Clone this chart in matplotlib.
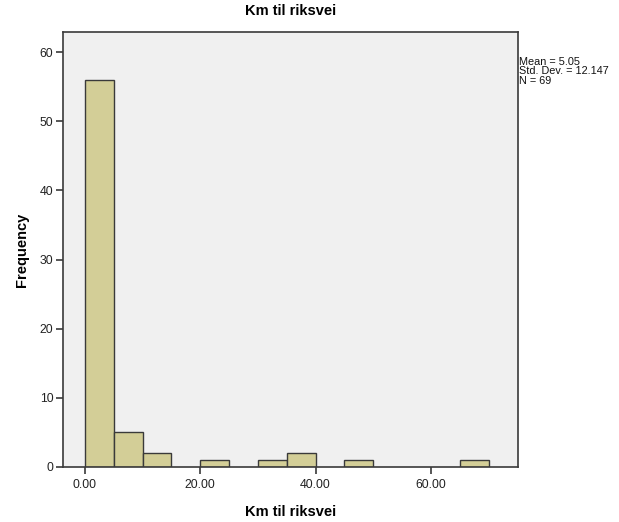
import matplotlib
matplotlib.use("Agg")
import matplotlib.pyplot as plt
import numpy as np

plt.rcParams['font.family'] = ['Liberation Sans', 'DejaVu Sans']

# Histogram of distance to nearest national road (bin width 5 km)
bin_edges = [0, 5, 10, 15, 20, 25, 30, 35, 40, 45, 50, 55, 60, 65, 70]
counts = [56, 5, 2, 0, 1, 0, 1, 2, 0, 1, 0, 0, 0, 1]
x_ticks = [0, 20, 40, 60]
x_tick_labels = ["0.00", "20.00", "40.00", "60.00"]
y_ticks = [0, 10, 20, 30, 40, 50, 60]
stats_text = "Mean = 5.05\nStd. Dev. = 12.147\nN = 69"

fig = plt.figure(figsize=(6.19, 5.22), dpi=100)
ax = fig.add_axes([0.1018, 0.1054, 0.735, 0.8333])
ax.set_facecolor('#F0F0F0')

lefts = bin_edges[:-1]
widths = np.diff(bin_edges)
for l, w, c in zip(lefts, widths, counts):
    if c > 0:
        ax.bar(l, c, width=w, align='edge', color='#D3CE97',
               edgecolor='#3A3A3A', linewidth=1.0, zorder=2)

ax.set_xlim(-3.8, 75.1)
ax.set_ylim(0, 62.9)
ax.set_xticks(x_ticks)
ax.set_xticklabels(x_tick_labels)
ax.set_yticks(y_ticks)

for s in ax.spines.values():
    s.set_color('#3A3A3A')
    s.set_linewidth(1.2)

ax.tick_params(axis='both', direction='out', length=5, width=1.2,
               color='#3A3A3A', labelsize=8.8, labelcolor='#222222', pad=2)
ax.tick_params(axis='x', pad=4)

ax.set_title("Km til riksvei", fontsize=10.5, fontweight='bold', pad=12)
ax.set_xlabel("Km til riksvei", fontsize=10.5, fontweight='bold', labelpad=10)
ax.set_ylabel("Frequency", fontsize=10.5, fontweight='bold', labelpad=8)

fig.text(519 / 619, 1 - 57 / 522, stats_text, fontsize=7.8, va='top',
         ha='left', linespacing=0.92, color='#111111')

fig.savefig("out.png", dpi=100)
